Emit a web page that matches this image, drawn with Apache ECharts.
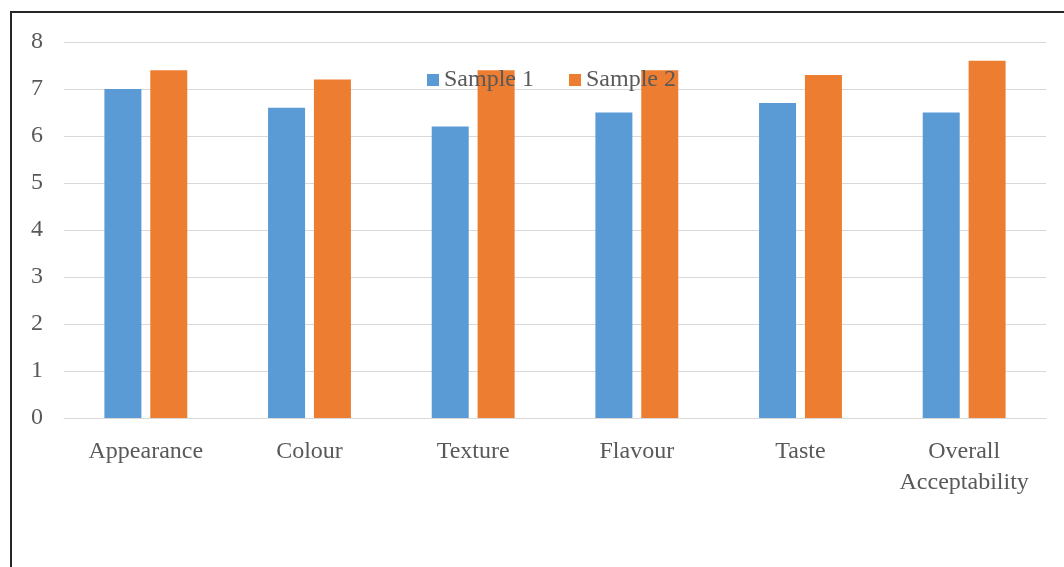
<!DOCTYPE html>
<html>
<head>
<meta charset="utf-8">
<script src="https://cdn.jsdelivr.net/npm/echarts@6/dist/echarts.min.js"></script>
<style>
  html, body { margin: 0; padding: 0; background: #fff; }
  #frame {
    position: absolute; left: 10px; top: 11px; width: 1100px; height: 600px;
    border-left: 2px solid #262626; border-top: 2px solid #262626;
  }
  #chart { position: absolute; left: 0; top: 0; width: 1064px; height: 567px; }
</style>
</head>
<body>
<div id="frame"></div>
<div id="chart"></div>
<script>
const categories = ['Appearance', 'Colour', 'Texture', 'Flavour', 'Taste', 'Overall\nAcceptability']
const sample1 = [7.0, 6.6, 6.2, 6.5, 6.7, 6.5]
const sample2 = [7.4, 7.2, 7.4, 7.4, 7.3, 7.6]
const seriesNames = ['Sample 1', 'Sample 2']

const chart = echarts.init(document.getElementById('chart'))
const font = "'Liberation Serif', 'DejaVu Serif', serif"

const option = {
  animation: false,
  textStyle: { fontFamily: font },
  legend: {
    data: seriesNames,
    top: 63,
    left: 422,
    itemWidth: 12,
    itemHeight: 12,
    itemGap: 35,
    icon: 'rect',
    textStyle: { color: '#595959', fontSize: 24, fontFamily: font }
  },
  grid: { left: 64, right: 18, top: 42, bottom: 149 },
  xAxis: {
    type: 'category',
    data: categories,
    axisLine: { lineStyle: { color: '#d9d9d9', width: 1 } },
    axisTick: { show: false },
    axisLabel: {
      color: '#595959', fontSize: 24, fontFamily: font,
      interval: 0, margin: 18, lineHeight: 31
    }
  },
  yAxis: {
    type: 'value',
    min: 0,
    max: 8,
    interval: 1,
    axisLine: { show: false },
    axisTick: { show: false },
    splitLine: { lineStyle: { color: '#d9d9d9', width: 1 } },
    axisLabel: { color: '#595959', fontSize: 24, fontFamily: font, margin: 21 }
  },
  series: [
    {
      name: seriesNames[0],
      type: 'bar',
      data: sample1,
      barWidth: 37,
      barGap: '24%',
      itemStyle: { color: '#5b9bd5' }
    },
    {
      name: seriesNames[1],
      type: 'bar',
      data: sample2,
      barWidth: 37,
      itemStyle: { color: '#ed7d31' }
    }
  ]
}

chart.setOption(option)
</script>
</body>
</html>
